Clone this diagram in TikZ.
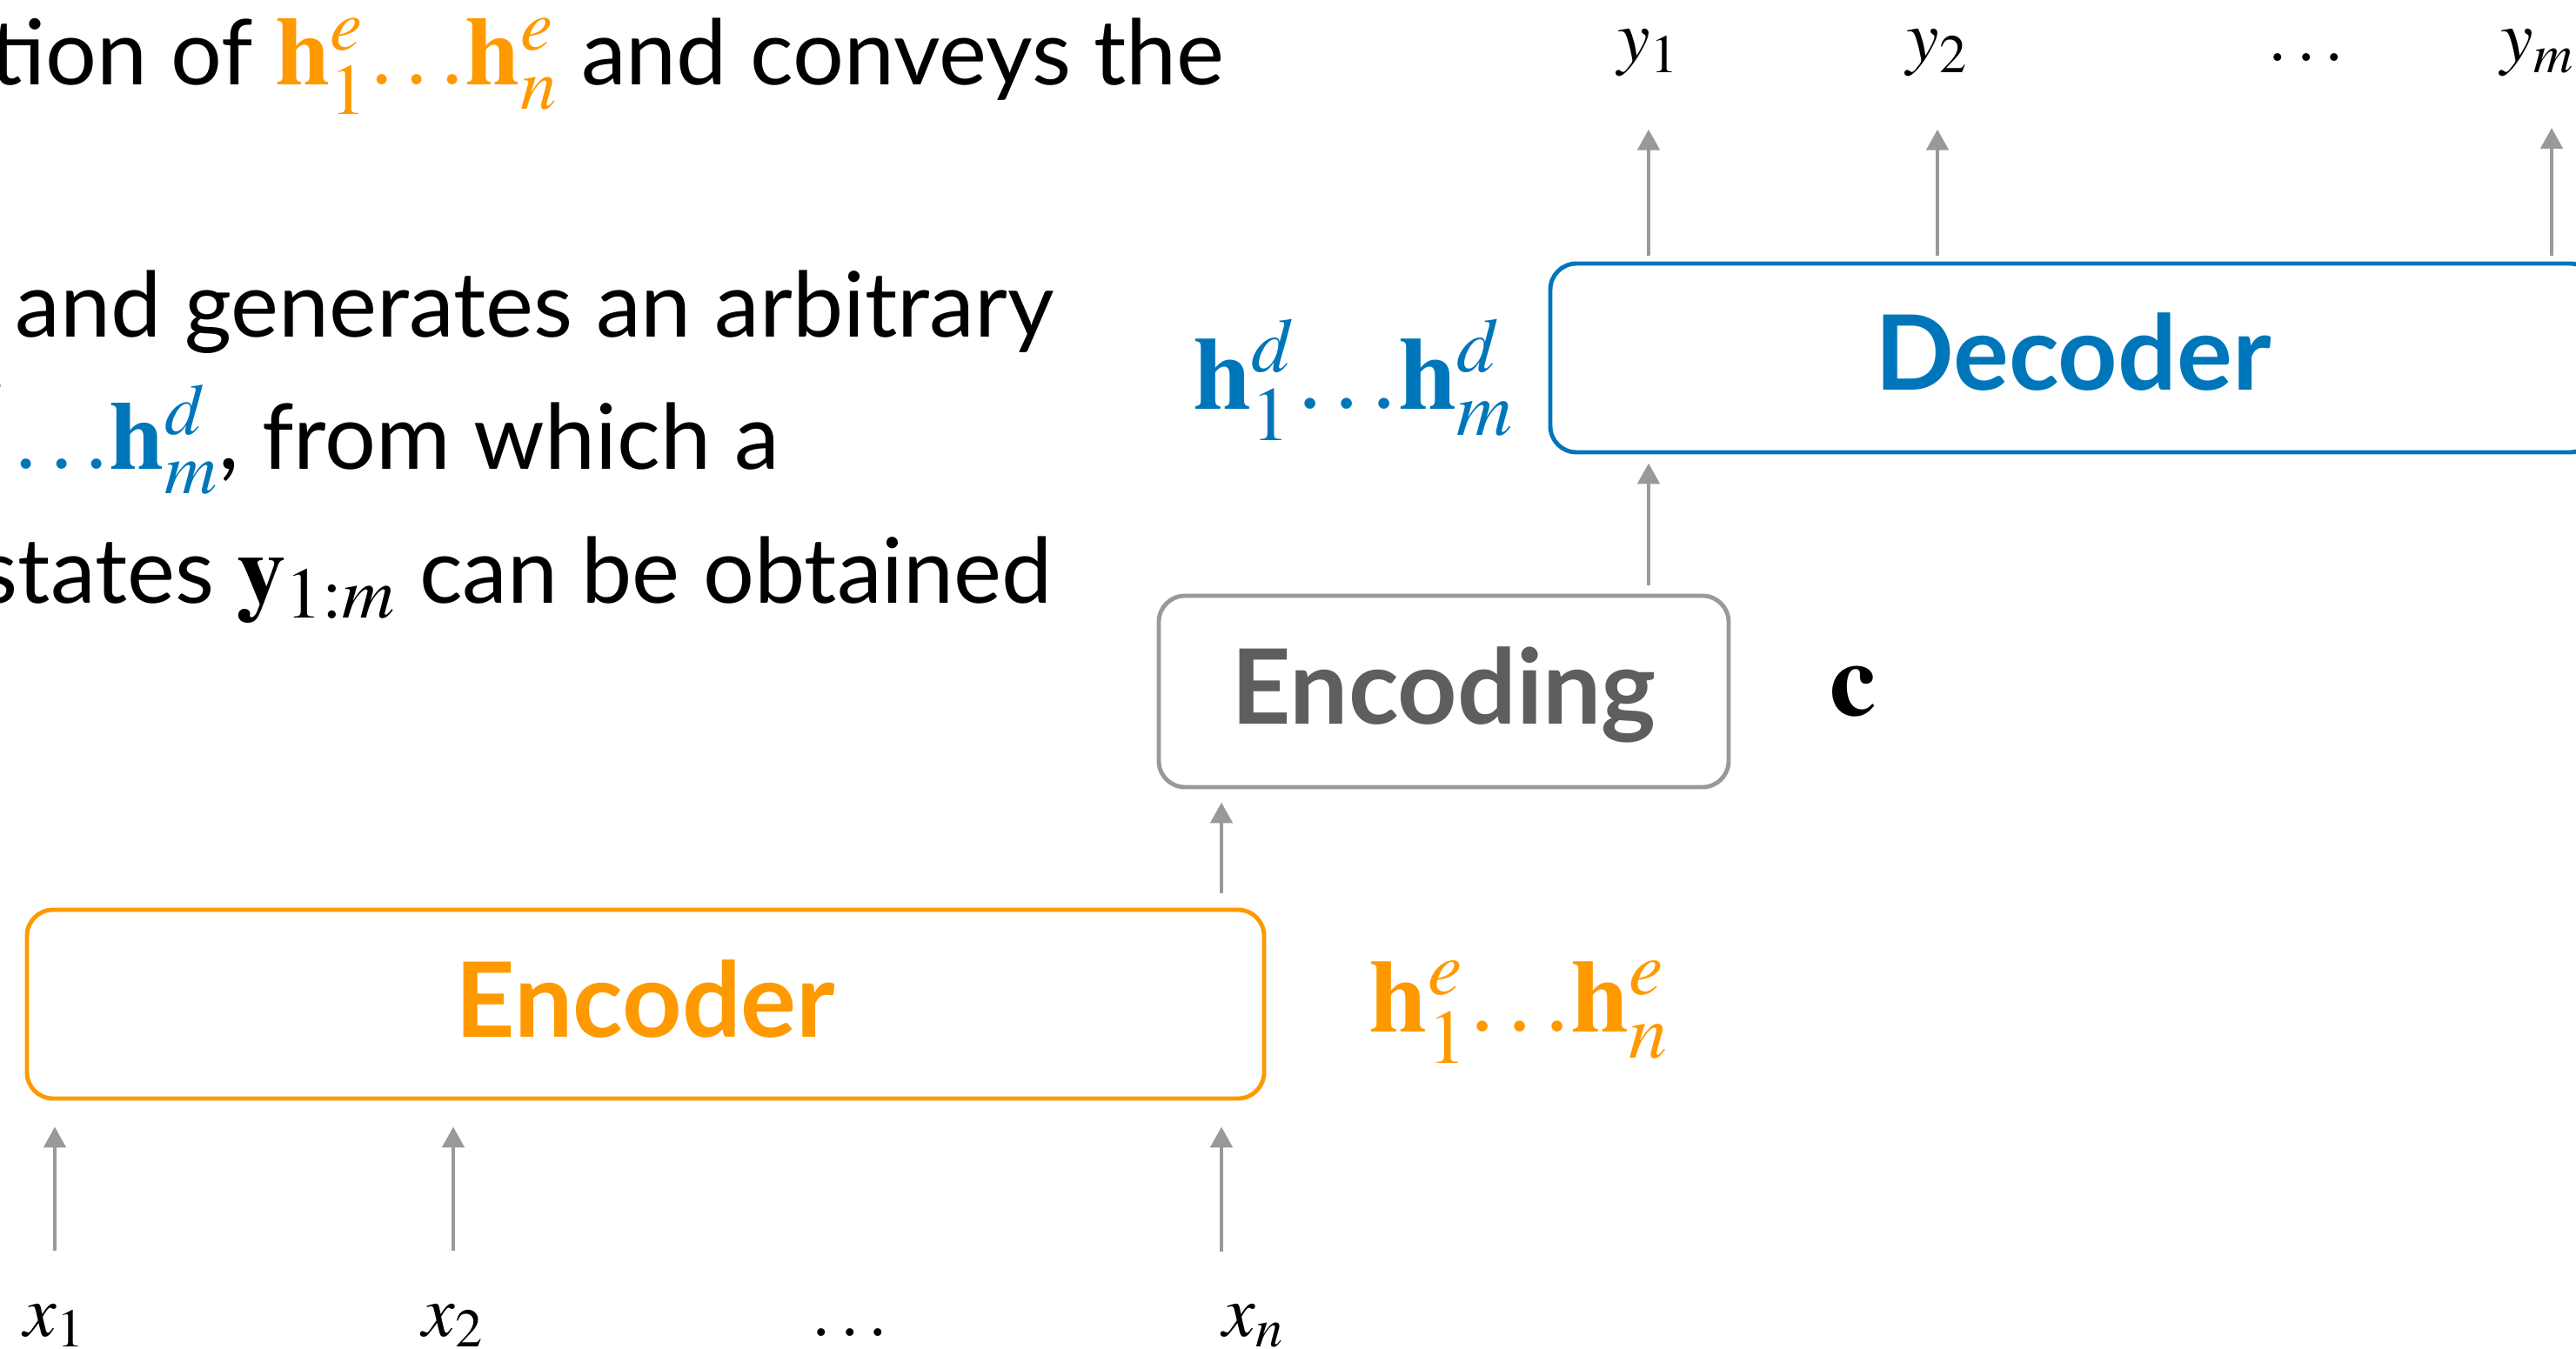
\documentclass[tikz,border=0pt]{standalone}
\usepackage{mathptmx}
\usepackage[no-math]{fontspec}
\setmainfont{Lato}
\usepackage{tikz}
\usetikzlibrary{positioning, arrows.meta, calc}

\definecolor{encorange}{HTML}{FF9900}
\definecolor{decblue}{HTML}{0076BA}
\definecolor{arrowgray}{HTML}{999999}
\definecolor{textgray}{HTML}{5E5E5E}

\newcommand{\tdots}{.\mkern1.5mu.\mkern1.5mu.}
\newcommand{\bigmath}[1]{{\fontsize{32}{38}\selectfont #1}}

\tikzset{
  block/.style={rectangle, rounded corners=0.3cm, line width=1.4pt, minimum height=2.17cm, text height=0.75cm, text depth=0cm, font=\fontsize{34}{40}\selectfont\bfseries},
  arrow/.style={-{Triangle[length=0.24cm,width=0.25cm]}, line width=1.4pt, draw=arrowgray},
  bodytext/.style={anchor=base west, inner sep=0pt, font=\fontsize{29.6}{36}\selectfont},
  seqlabel/.style={anchor=base, inner sep=0pt, text height=0.45cm, text depth=0.15cm, font=\fontsize{24}{28}\selectfont},
  hlabel/.style={anchor=base west, inner sep=0pt, font=\fontsize{34}{40}\selectfont}
}

\begin{document}
\begin{tikzpicture}[>=latex]
  \useasboundingbox (0,0) rectangle (29.61,-15.51);
  \clip (0,0) rectangle (29.61,-15.51);

  % 1. Text on the left
  \node[bodytext] (line1) at (-0.12,-0.98) {tion of \textcolor{encorange}{\bigmath{$\mathbf{h}^e_1\tdots\mathbf{h}^e_n$}} and conveys the};
  \node[bodytext] (line2) at (0.17,-3.88) {and generates an arbitrary};
  \node[bodytext] (line3) at (0.14,-5.40) {\textcolor{decblue}{\bigmath{\llap{$\mathbf{h}^d_1$\hspace{0.1cm}}$\tdots\mathbf{h}^d_m$}}, from which a};
  \node[bodytext] (line4) at (-0.25,-6.94) {states \bigmath{$\mathbf{y}_{1{:}m}$} can be obtained};

  % 2. Blocks
  \node[block, draw=encorange, text=encorange, minimum width=14.22cm] (enc) at (7.42,-11.545) {Encoder};
  \node[block, draw=arrowgray, text=textgray, minimum width=6.55cm, minimum height=2.2cm] (encoding) at (16.595,-7.95) {Encoding};
  \node[block, draw=decblue, text=decblue, minimum width=12.02cm] (dec) at (23.83,-4.115) {Decoder};

  % 3. Hidden states and context
  \node[hlabel, text=encorange] (henc) at (15.74,-11.87) {$\mathbf{h}^e_1\tdots\mathbf{h}^e_n$};
  \node[hlabel, anchor=base east, text=decblue] (hdec) at (17.41,-4.71) {$\mathbf{h}^d_1\tdots\mathbf{h}^d_m$};
  \node[hlabel, anchor=base] (ctx) at (21.30,-8.23) {$\mathbf{c}$};

  % 4. Input and output sequences
  \node[seqlabel] (x1) at (0.63,-15.36) {$x_1$};
  \node[seqlabel] (x2) at (5.21,-15.36) {$x_2$};
  \node[seqlabel] (xdots) at (9.77,-15.36) {$\ldots$};
  \node[seqlabel] (xn) at (14.41,-15.36) {$x_n$};
  \coordinate (xtap) at (14.04,-14.39);

  \node[seqlabel] (y1) at (18.95,-0.71) {$y_1$};
  \node[seqlabel] (y2) at (22.27,-0.71) {$y_2$};
  \node[seqlabel] (ydots) at (26.51,-0.71) {$\ldots$};
  \node[seqlabel] (ym) at (29.17,-0.71) {$y_m$};
  \coordinate (ytap) at (29.33,-1.47);

  % 5. Arrows
  \draw[arrow, shorten <=0.52cm, shorten >=0.30cm] (x1.north) -- (x1.north |- enc.south);
  \draw[arrow, shorten <=0.52cm, shorten >=0.30cm] (x2.north) -- (x2.north |- enc.south);
  \draw[arrow, shorten >=0.30cm] (xtap) -- (xtap |- enc.south);
  \draw[arrow, shorten <=0.17cm, shorten >=0.15cm] (xtap |- enc.north) -- (xtap |- encoding.south);
  \draw[arrow, shorten <=0.10cm, shorten >=0.10cm] (y1 |- encoding.north) -- (y1 |- dec.south);
  \draw[arrow, shorten <=0.07cm, shorten >=0.62cm] (y1 |- dec.north) -- (y1.south);
  \draw[arrow, shorten <=0.07cm, shorten >=0.62cm] (y2 |- dec.north) -- (y2.south);
  \draw[arrow, shorten <=0.07cm] (ytap |- dec.north) -- (ytap);

\end{tikzpicture}
\end{document}
